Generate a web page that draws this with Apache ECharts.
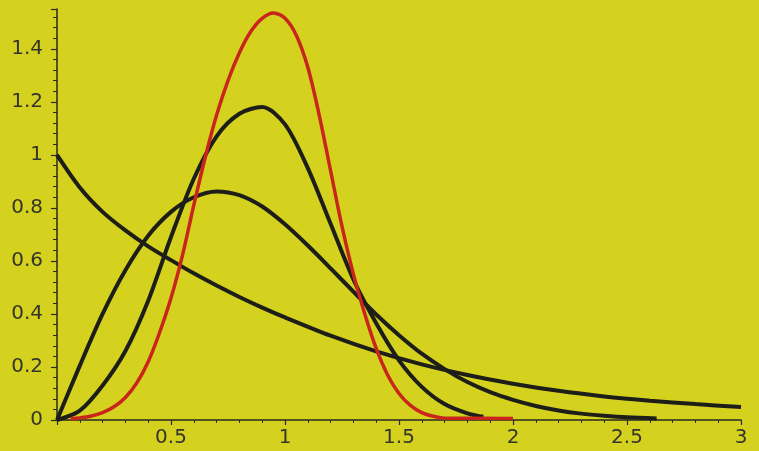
<!DOCTYPE html>
<html>
<head>
<meta charset="utf-8">
<script src="https://cdn.jsdelivr.net/npm/echarts@6/dist/echarts.min.js"></script>
<style>
html,body{margin:0;padding:0;background:#d5d21f;}
#c{width:759px;height:451px;}
</style>
</head>
<body>
<div id="c"></div>
<script>
// Curve 1 (decaying from 1)
const c1X = [0, 0.1, 0.2, 0.3, 0.4, 0.5, 0.6, 0.7, 0.8, 0.9, 1.0, 1.2, 1.4, 1.6, 1.8, 2.0, 2.2, 2.4, 2.6, 2.8, 3.0];
const c1Y = [1.0, 0.877, 0.785, 0.715, 0.655, 0.603, 0.553, 0.507, 0.464, 0.424, 0.387, 0.318, 0.259, 0.21, 0.17, 0.137, 0.11, 0.089, 0.073, 0.06, 0.049];
// Curve 2 (peak ~0.86)
const c2X = [0, 0.1, 0.2, 0.3, 0.4, 0.5, 0.6, 0.7, 0.8, 0.9, 1.0, 1.1, 1.2, 1.3, 1.4, 1.5, 1.6, 1.7, 1.8, 1.9, 2.0, 2.1, 2.2, 2.3, 2.4, 2.5, 2.63];
const c2Y = [0, 0.205, 0.40, 0.565, 0.695, 0.785, 0.84, 0.862, 0.848, 0.805, 0.738, 0.658, 0.572, 0.484, 0.398, 0.32, 0.25, 0.192, 0.143, 0.105, 0.076, 0.053, 0.036, 0.024, 0.016, 0.01, 0.006];
// Curve 3 (peak ~1.18)
const c3X = [0, 0.1, 0.2, 0.3, 0.4, 0.5, 0.6, 0.7, 0.8, 0.9, 1.0, 1.1, 1.2, 1.3, 1.4, 1.5, 1.6, 1.7, 1.8, 1.87];
const c3Y = [0, 0.035, 0.13, 0.26, 0.45, 0.69, 0.91, 1.07, 1.155, 1.18, 1.115, 0.95, 0.74, 0.53, 0.365, 0.225, 0.125, 0.06, 0.025, 0.012];
// Red curve (peak ~1.54)
const rX = [0.06, 0.1, 0.15, 0.2, 0.25, 0.3, 0.35, 0.4, 0.45, 0.5, 0.55, 0.6, 0.65, 0.7, 0.75, 0.8, 0.85, 0.9, 0.95, 1.0, 1.05, 1.1, 1.15, 1.2, 1.25, 1.3, 1.35, 1.4, 1.45, 1.5, 1.55, 1.6, 1.65, 1.7, 2.0];
const rY = [0.005, 0.008, 0.015, 0.028, 0.05, 0.085, 0.14, 0.22, 0.33, 0.46, 0.62, 0.81, 0.99, 1.15, 1.28, 1.385, 1.465, 1.515, 1.535, 1.515, 1.45, 1.33, 1.15, 0.94, 0.73, 0.55, 0.40, 0.27, 0.17, 0.10, 0.055, 0.028, 0.014, 0.007, 0.006];

const xTicks = [0, 0.5, 1, 1.5, 2, 2.5, 3];
const yTicks = [0, 0.2, 0.4, 0.6, 0.8, 1, 1.2, 1.4];

function pairs(xs, ys){ return xs.map((x,i)=>[x, ys[i]]); }

const chart = echarts.init(document.getElementById('c'), null, {renderer:'canvas'});
const labelFont = {fontFamily:'DejaVu Sans', fontSize:20, color:'#34342a'};
const axisCol = '#2a2a22';
chart.setOption({
  backgroundColor:'#d5d21f',
  animation:false,
  grid:{left:57, right:18, top:9, bottom:31},
  xAxis:{
    type:'value', min:xTicks[0], max:xTicks[xTicks.length-1], interval:0.5,
    axisLine:{show:true, onZero:false, lineStyle:{color:axisCol, width:1.5}},
    axisTick:{show:true, length:5, lineStyle:{color:axisCol, width:1.2}},
    minorTick:{show:true, splitNumber:5, length:3, lineStyle:{color:axisCol, width:1}},
    splitLine:{show:false},
    axisLabel:Object.assign({margin:8, showMinLabel:false}, labelFont)
  },
  yAxis:{
    type:'value', min:yTicks[0], max:1.55, interval:0.2,
    axisLine:{show:true, onZero:false, lineStyle:{color:axisCol, width:1.5}},
    axisTick:{show:true, length:6, lineStyle:{color:axisCol, width:1.2}},
    minorTick:{show:true, splitNumber:5, length:4, lineStyle:{color:axisCol, width:1}},
    splitLine:{show:false},
    axisLabel:Object.assign({margin:14, showMaxLabel:false, formatter:v=>String(v)}, labelFont)
  },
  series:[
    {type:'line', data:pairs(c1X,c1Y), smooth:0.3, symbol:'none', lineStyle:{color:'#1e1e18', width:4}, z:2},
    {type:'line', data:pairs(c2X,c2Y), smooth:0.3, symbol:'none', lineStyle:{color:'#1e1e18', width:4}, z:2},
    {type:'line', data:pairs(c3X,c3Y), smooth:0.3, symbol:'none', lineStyle:{color:'#1e1e18', width:4}, z:2},
    {type:'line', data:pairs(rX,rY), smooth:0.3, symbol:'none', lineStyle:{color:'#c8261c', width:3.5}, z:3}
  ]
});
</script>
</body>
</html>
